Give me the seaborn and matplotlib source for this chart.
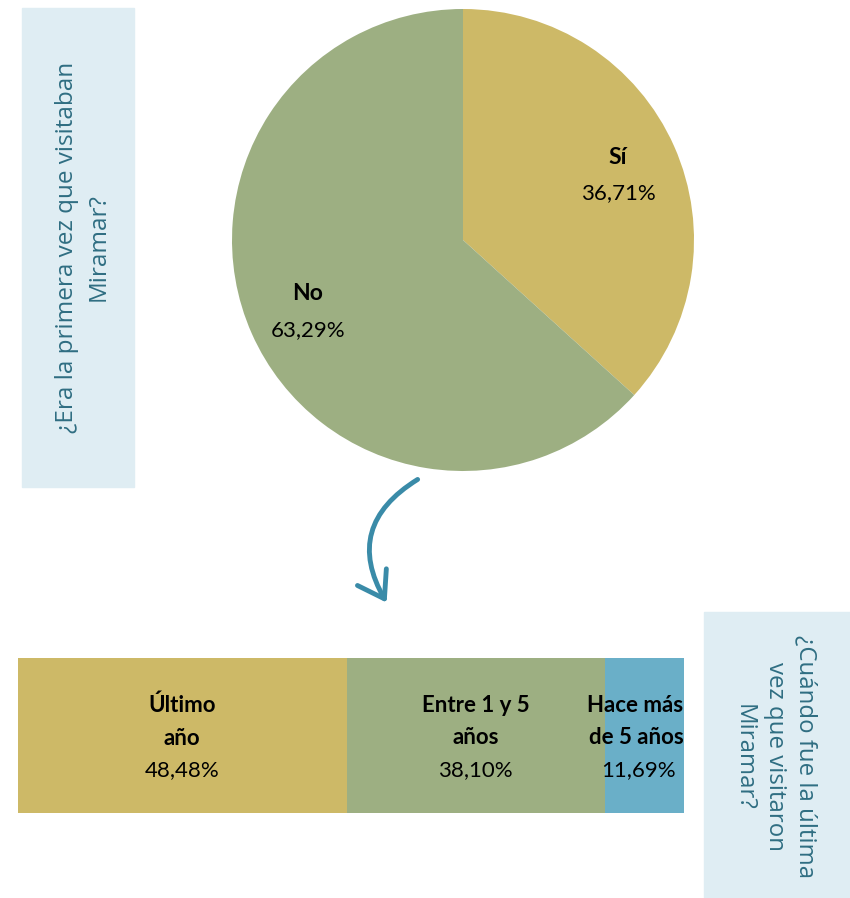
import matplotlib
matplotlib.use("Agg")
import matplotlib.pyplot as plt
import seaborn as sns
import numpy as np
from matplotlib.patches import FancyArrowPatch, Rectangle

# ---- data ----
pie_labels = ["Sí", "No"]
pie_values = [36.71, 63.29]
bar_labels = ["Último\naño", "Entre 1 y 5\naños", "Hace más\nde 5 años"]
bar_values = [48.48, 38.10, 11.69]
q1 = "¿Era la primera vez que visitaban\nMiramar?"
q2 = "¿Cuándo fue la última\nvez que visitaron\nMiramar?"

sns.set_theme(style="white")
plt.rcParams['font.family'] = ['Open Sans', 'DejaVu Sans']

c_yellow = "#CDB967"
c_green = "#9DAF82"
c_blue = "#6AAFC8"
box_col = "#DFEDF3"
txt_col = "#2F6E82"
lab_font = ['Lato', 'DejaVu Sans']

W, H = 850, 898
fig = plt.figure(figsize=(W / 100, H / 100), dpi=100)

def fx(px):
    return px / W

def fy(py):
    return 1 - py / H

# text boxes
fig.patches.append(Rectangle((fx(22), fy(487)), fx(134) - fx(22), fy(8) - fy(487),
                             transform=fig.transFigure, color=box_col, zorder=0))
fig.patches.append(Rectangle((fx(704), fy(898)), fx(850) - fx(704), fy(612) - fy(898),
                             transform=fig.transFigure, color=box_col, zorder=0))
fig.text(fx(83), fy(247), q1, rotation=90, ha="center", va="center",
         color=txt_col, fontsize=17.5, linespacing=1.4, fontweight="normal")
fig.text(fx(775), fy(757), q2, rotation=-90, ha="center", va="center",
         color=txt_col, fontsize=17.3, linespacing=1.4, fontweight="normal")

# pie
ax1 = fig.add_axes([fx(232), fy(471), fx(694) - fx(232), fy(9) - fy(471)])
ax1.pie(pie_values, colors=[c_yellow, c_green], startangle=90, counterclock=False,
        wedgeprops=dict(linewidth=0))
ax1.set_aspect("equal")
ax1.set_xlim(-1, 1)
ax1.set_ylim(-1, 1)
r = 231.0
cx, cy = 463, 240
pos = [(618, 157), (308, 294)]
for (px, py), lab, v in zip(pos, pie_labels, pie_values):
    x = (px - cx) / r
    y = -(py - cy) / r
    ax1.text(x, y, lab, ha="center", va="center", fontsize=16.5, fontweight="bold",
             color="black", family=lab_font)
    ax1.text(x, y - 36 / r, f"{v:.2f}%".replace(".", ","), ha="center", va="center",
             fontsize=16, color="black", family=lab_font)

# stacked bar
ax2 = fig.add_axes([fx(18), fy(813), fx(684) - fx(18), fy(658) - fy(813)])
cums = np.cumsum(bar_values)
cols = [c_yellow, c_green, c_blue]
for i in range(len(bar_values) - 1, -1, -1):
    sns.barplot(x=[cums[i]], y=[0], orient="h", color=cols[i], width=1.0,
                saturation=1, ax=ax2, linewidth=0, native_scale=True)
ax2.set_xlim(0, cums[-1])
ax2.set_ylim(0.5, -0.5)
ax2.axis("off")
starts = np.concatenate([[0], cums[:-1]])
n = len(bar_values)
for i, (s, v, lab) in enumerate(zip(starts, bar_values, bar_labels)):
    xc = s + v / 2
    ha = "center"
    if i == n - 1:
        xc = cums[-1] - 0.1
        ha = "right"
    ax2.text(xc, -0.09, lab, ha=ha, va="center", fontsize=16,
             fontweight="bold", color="black", linespacing=1.7, family=lab_font)
    xp = s + v / 2 - (0.9 if i == n - 1 else 0)
    ax2.text(xp, 0.22, f"{v:.2f}%".replace(".", ","), ha="center", va="center",
             fontsize=16, color="black", family=lab_font)

# arrow
arrow = FancyArrowPatch((fx(420), fy(478)), (fx(388), fy(605)), transform=fig.transFigure,
                        connectionstyle="arc3,rad=0.5", arrowstyle="->,head_length=6,head_width=4",
                        color="#3A8BA8", lw=3.5, mutation_scale=3)
fig.patches.append(arrow)

fig.savefig("out.png", dpi=100, facecolor="white")
